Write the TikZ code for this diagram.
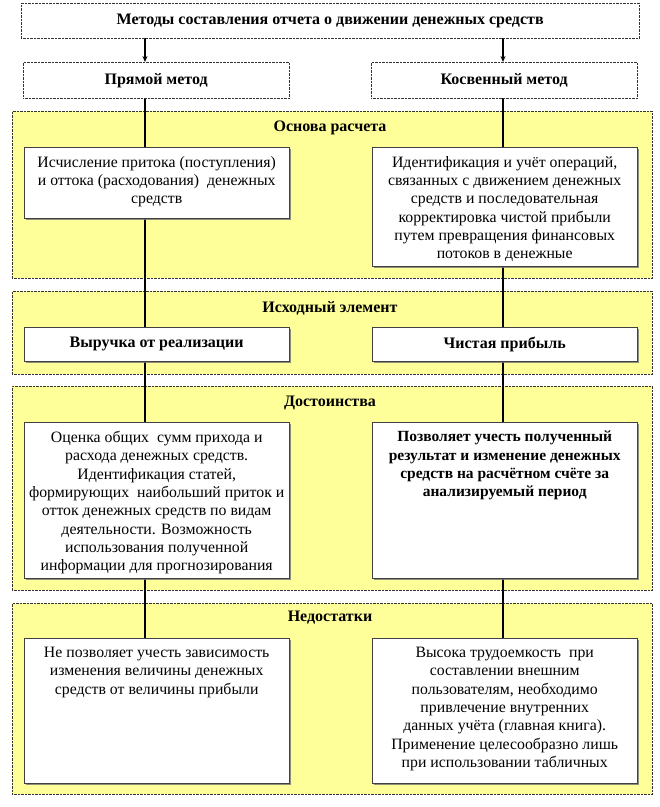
\documentclass[tikz,border=0pt]{standalone}
\usepackage{fontspec}
\setmainfont{Liberation Serif}
\usetikzlibrary{shadows,arrows.meta}
\definecolor{panelyellow}{RGB}{255,255,153}
\pgfdeclarelayer{panels}
\pgfdeclarelayer{links}
\pgfsetlayers{panels,links,main}
\tikzset{
  panel/.style={draw=black!80, densely dotted, fill=panelyellow, anchor=north west, inner sep=0pt},
  headbox/.style={draw=black!80, densely dotted, fill=white, anchor=north west, inner sep=0pt},
  itembox/.style={draw=black!75, fill=white, anchor=north west, inner sep=0pt,
    drop shadow={shadow xshift=2pt, shadow yshift=-2pt, fill=black!55, opacity=0.8}},
  headtext/.style={font=\fontsize{16}{18}\selectfont\bfseries},
  bodytext/.style={font=\fontsize{15.8}{18.3}\selectfont, align=center, anchor=north, inner sep=0pt},
  boldtext/.style={font=\fontsize{15.5}{18.3}\selectfont\bfseries, align=center, anchor=north, inner sep=0pt},
  link/.style={line width=1.2pt}
}
\begin{document}
\begin{tikzpicture}[x=1pt,y=-1pt]
\useasboundingbox (0,0) rectangle (660,807);
\coordinate (lx) at (145,0);
\coordinate (rx) at (503,0);
\node [headbox, minimum width=618pt, minimum height=35pt] (top) at (21,3) {};
\node [headtext] (toptext) at (top.center) {Методы составления отчета о движении денежных средств};
\node [headbox, minimum width=266pt, minimum height=36pt] (direct) at (23,62) {};
\node [headtext] (directtext) at (direct.center) {Прямой метод};
\node [headbox, minimum width=266pt, minimum height=36pt] (indirect) at (371,62) {};
\node [headtext] (indirecttext) at (indirect.center) {Косвенный метод};
\begin{pgfonlayer}{panels}
\node [panel, minimum width=640pt, minimum height=167pt] (basis) at (12,111) {};
\node [panel, minimum width=640pt, minimum height=83pt] (source) at (12,291) {};
\node [panel, minimum width=640pt, minimum height=204pt] (merits) at (12,386) {};
\node [panel, minimum width=640pt, minimum height=191pt] (flaws) at (12,603) {};
\end{pgfonlayer}
\node [headtext] (basistitle) at (330,128) {Основа расчета};
\node [headtext] (sourcetitle) at (330,308) {Исходный элемент};
\node [headtext] (meritstitle) at (330,403) {Достоинства};
\node [headtext] (flawstitle) at (330,618) {Недостатки};
\node [itembox, minimum width=265pt, minimum height=71pt] (basisl) at (24,147) {};
\node [bodytext] at ([yshift=-9pt]basisl.north) {Исчисление притока (поступления)\\и оттока (расходования)\ \ денежных\\средств};
\node [itembox, minimum width=265pt, minimum height=119pt] (basisr) at (372,147) {};
\node [bodytext] at ([yshift=-9pt]basisr.north) {Идентификация и учёт операций,\\связанных с движением денежных\\средств и последовательная\\корректировка чистой прибыли\\путем превращения финансовых\\потоков в денежные};
\node [itembox, minimum width=265pt, minimum height=34pt] (sourcel) at (24,327) {};
\node [headtext] at (sourcel.center) {Выручка от реализации};
\node [itembox, minimum width=265pt, minimum height=34pt] (sourcer) at (372,327) {};
\node [headtext] at (sourcer.center) {Чистая прибыль};
\node [itembox, minimum width=265pt, minimum height=156pt] (meritsl) at (24,422) {};
\node [bodytext] at ([yshift=-9pt]meritsl.north) {Оценка общих\ \ сумм прихода и\\расхода денежных средств.\\Идентификация статей,\\формирующих\ \ наибольший приток и\\отток денежных средств по видам\\деятельности. Возможность\\использования полученной\\информации для прогнозирования};
\node [itembox, minimum width=265pt, minimum height=156pt] (meritsr) at (372,422) {};
\node [boldtext] at ([yshift=-9pt]meritsr.north) {Позволяет учесть полученный\\результат и изменение денежных\\средств на расчётном счёте за\\анализируемый период};
\node [itembox, minimum width=265pt, minimum height=145pt] (flawsl) at (24,638) {};
\node [bodytext] at ([yshift=-9pt]flawsl.north) {Не позволяет учесть зависимость\\изменения величины денежных\\средств от величины прибыли};
\node [itembox, minimum width=265pt, minimum height=145pt] (flawsr) at (372,638) {};
\node [bodytext] at ([yshift=-9pt]flawsr.north) {Высока трудоемкость\ \ при\\составлении внешним\\пользователям, необходимо\\привлечение внутренних\\данных учёта (главная книга).\\Применение целесообразно лишь\\при использовании табличных};
\begin{pgfonlayer}{links}
\draw [link, -{Stealth[length=6pt,width=5pt]}] (top.south -| lx) -- (direct.north -| lx);
\draw [link, -{Stealth[length=6pt,width=5pt]}] (top.south -| rx) -- (indirect.north -| rx);
\draw [link] (direct.south -| lx) -- (flawsl.north -| lx);
\draw [link] (indirect.south -| rx) -- (flawsr.north -| rx);
\end{pgfonlayer}
\end{tikzpicture}
\end{document}
